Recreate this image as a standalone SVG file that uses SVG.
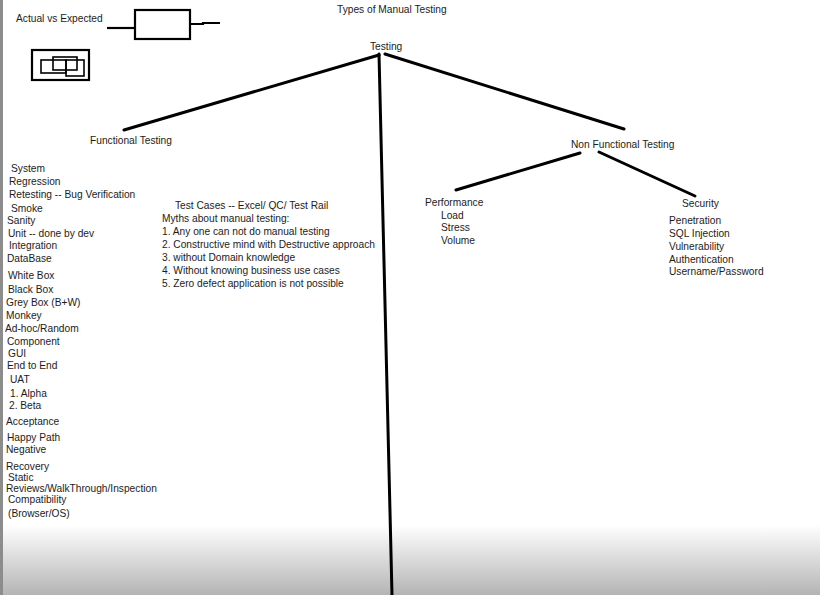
<svg xmlns="http://www.w3.org/2000/svg" width="820" height="595" viewBox="0 0 820 595">
<style>
text{font-family:"Liberation Sans",Arial,sans-serif;font-size:10.2px;fill:#1c1c1c}
.ln{stroke:#000;stroke-width:3;stroke-linecap:round;fill:none}
.bx{stroke:#000;stroke-width:2.2;fill:none}
.bt{stroke:#000;stroke-width:1.6;fill:none}
</style>
<defs>
<linearGradient id="fade" x1="0" y1="0" x2="0" y2="1">
<stop offset="0" stop-color="#ffffff"/>
<stop offset="1" stop-color="#b4b4b4"/>
</linearGradient>
</defs>
<rect width="820" height="595" fill="#fff"/>
<rect x="0" y="525" width="820" height="70" fill="url(#fade)"/>
<rect x="0" y="0" width="3" height="595" fill="#8c8c8c"/>

<g id="title"><text x="337" y="13">Types of Manual Testing</text></g>

<g id="actual-vs-expected">
<text x="16" y="22">Actual vs Expected</text>
<rect class="bx" x="135" y="10" width="55" height="29"/>
<line class="bx" x1="107" y1="28" x2="135" y2="28"/>
<polyline class="bx" points="189,24 203,24 203,23 220,23"/>
</g>

<g id="nested-boxes">
<rect class="bx" x="32" y="50" width="57" height="30"/>
<rect class="bt" x="41" y="60" width="25" height="13"/>
<rect class="bt" x="53" y="57" width="24" height="13"/>
<rect class="bt" x="66" y="60" width="18" height="16"/>
</g>

<g id="connectors">
<line class="ln" x1="379" y1="54" x2="392" y2="595"/>
<line class="ln" x1="379" y1="55" x2="124" y2="130"/>
<line class="ln" x1="385" y1="54" x2="624" y2="129"/>
<line class="ln" x1="580" y1="153" x2="456" y2="190"/>
<line class="ln" x1="599" y1="152" x2="695" y2="196"/>
</g>

<g id="testing"><text x="370" y="50">Testing</text></g>
<g id="functional-testing"><text x="90" y="144">Functional Testing</text></g>
<g id="non-functional-testing"><text x="571" y="148">Non Functional Testing</text></g>

<g id="functional-list">
<text x="11" y="172">System</text>
<text x="9" y="185">Regression</text>
<text x="9" y="198">Retesting -- Bug Verification</text>
<text x="11" y="212">Smoke</text>
<text x="7" y="224">Sanity</text>
<text x="8" y="237">Unit -- done by dev</text>
<text x="9" y="249">Integration</text>
<text x="7" y="262">DataBase</text>
<text x="8" y="279">White Box</text>
<text x="8" y="293">Black Box</text>
<text x="6" y="306">Grey Box (B+W)</text>
<text x="6" y="319">Monkey</text>
<text x="5" y="332">Ad-hoc/Random</text>
<text x="7" y="345">Component</text>
<text x="8" y="357">GUI</text>
<text x="7" y="369">End to End</text>
<text x="10" y="383">UAT</text>
<text x="10" y="397">1. Alpha</text>
<text x="9" y="409">2. Beta</text>
<text x="6" y="425">Acceptance</text>
<text x="7" y="441">Happy Path</text>
<text x="6" y="453">Negative</text>
<text x="6" y="470">Recovery</text>
<text x="8" y="481">Static</text>
<text x="6" y="492">Reviews/WalkThrough/Inspection</text>
<text x="8" y="503">Compatibility</text>
<text x="8" y="517">(Browser/OS)</text>
</g>

<g id="myths">
<text x="175" y="209">Test Cases -- Excel/ QC/ Test Rail</text>
<text x="162" y="222">Myths about manual testing:</text>
<text x="162" y="235">1. Any one can not do manual testing</text>
<text x="162" y="248">2. Constructive mind with Destructive approach</text>
<text x="162" y="261">3. without Domain knowledge</text>
<text x="162" y="274">4. Without knowing business use cases</text>
<text x="162" y="287">5. Zero defect application is not possible</text>
</g>

<g id="performance">
<text x="425" y="206">Performance</text>
<text x="441" y="219">Load</text>
<text x="441" y="231">Stress</text>
<text x="441" y="244">Volume</text>
</g>

<g id="security">
<text x="682" y="207">Security</text>
<text x="669" y="224">Penetration</text>
<text x="669" y="237">SQL Injection</text>
<text x="669" y="250">Vulnerability</text>
<text x="669" y="263">Authentication</text>
<text x="669" y="275">Username/Password</text>
</g>
</svg>
